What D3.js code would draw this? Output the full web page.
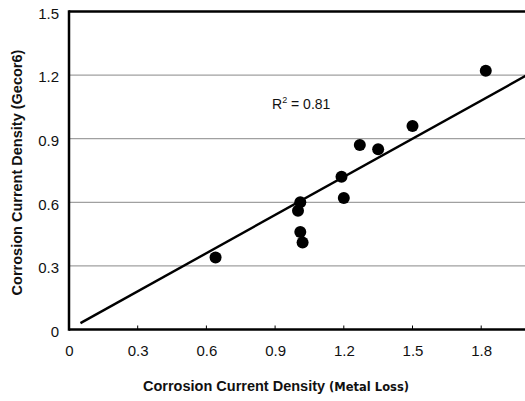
<!DOCTYPE html>
<html>
<head>
<meta charset="utf-8">
<script src="https://cdn.jsdelivr.net/npm/d3@7/dist/d3.min.js"></script>
<style>
  html, body { margin: 0; padding: 0; background: #fff; }
  svg { display: block; font-family: Arial, "Liberation Sans", Helvetica, sans-serif; }
</style>
</head>
<body>
<svg id="chart" width="525" height="401"></svg>
<script>
// Corrosion current density: metal-loss method (x) vs. Gecor6 device (y)
const metalLoss = [0.64, 1.00, 1.01, 1.01, 1.02, 1.19, 1.20, 1.27, 1.35, 1.50, 1.82];
const gecor6    = [0.34, 0.56, 0.60, 0.46, 0.41, 0.72, 0.62, 0.87, 0.85, 0.96, 1.22];
// Fitted line endpoints (y = 0.6x)
const fitX = [0.05, 2.0];
const fitY = [0.03, 1.20];
const xTicks = [0, 0.3, 0.6, 0.9, 1.2, 1.5, 1.8];
const yTicks = [0, 0.3, 0.6, 0.9, 1.2, 1.5];
const rSquared = "0.81";

const svg = d3.select("#chart");
const x = d3.scaleLinear().domain([0, 2.0]).range([69, 527]);
const y = d3.scaleLinear().domain([0, 1.5]).range([329.5, 11.5]);

// horizontal grid lines
svg.append("g")
  .selectAll("line")
  .data(yTicks.filter(d => d > 0 && d < 1.5))
  .join("line")
  .attr("x1", x(0)).attr("x2", x(2.0))
  .attr("y1", d => y(d)).attr("y2", d => y(d))
  .attr("stroke", "#a0a0a0")
  .attr("stroke-width", 1.2);

// frame: top, left, bottom
const frame = svg.append("g").attr("stroke", "#000").attr("fill", "none");
frame.append("line").attr("x1", x(0)).attr("x2", x(2.0)).attr("y1", y(1.5)).attr("y2", y(1.5)).attr("stroke-width", 2.5);
frame.append("line").attr("x1", x(0)).attr("x2", x(0)).attr("y1", y(1.5) - 1.2).attr("y2", y(0) + 1.2).attr("stroke-width", 2.5);
frame.append("line").attr("x1", x(0)).attr("x2", x(2.0)).attr("y1", y(0)).attr("y2", y(0)).attr("stroke-width", 2.5);

// x axis labels with short inner ticks
const xAxis = d3.axisBottom(x).tickValues(xTicks).tickSize(0).tickPadding(16)
  .tickFormat(d => d === 0 ? "0" : d3.format(".1f")(d));
const gx = svg.append("g").attr("transform", `translate(0,${y(0)})`).call(xAxis);
gx.select(".domain").remove();
gx.selectAll("text").attr("font-size", 15).attr("fill", "#111").attr("font-family", "Arial, 'Liberation Sans', sans-serif");
svg.append("g").selectAll("line").data(xTicks.slice(1)).join("line")
  .attr("x1", d => x(d)).attr("x2", d => x(d))
  .attr("y1", y(0)).attr("y2", y(0) - 4)
  .attr("stroke", "#000").attr("stroke-width", 1);

// y axis labels
const yAxis = d3.axisLeft(y).tickValues(yTicks).tickSize(0).tickPadding(10)
  .tickFormat(d => d === 0 ? "0" : d3.format(".1f")(d));
const gy = svg.append("g").attr("transform", `translate(${x(0)},0)`).call(yAxis);
gy.select(".domain").remove();
gy.selectAll("text").attr("font-size", 15).attr("fill", "#111").attr("dy", "0.45em")
  .attr("font-family", "Arial, 'Liberation Sans', sans-serif");

// regression line
svg.append("line")
  .attr("x1", x(fitX[0])).attr("y1", y(fitY[0]))
  .attr("x2", x(fitX[1])).attr("y2", y(fitY[1]))
  .attr("stroke", "#000").attr("stroke-width", 2.4);

// data points
svg.append("g").selectAll("circle")
  .data(metalLoss.map((v, i) => [v, gecor6[i]]))
  .join("circle")
  .attr("cx", d => x(d[0])).attr("cy", d => y(d[1]))
  .attr("r", 6).attr("fill", "#000");

// R-squared annotation
const rt = svg.append("text").attr("x", 272).attr("y", 109).attr("font-size", 14).attr("fill", "#111");
rt.append("tspan").text("R");
rt.append("tspan").attr("font-size", 9).attr("dy", -6).text("2");
rt.append("tspan").attr("dy", 6).text(" = " + rSquared);

// axis titles
svg.append("text")
  .attr("transform", `translate(22,${(y(0) + y(1.5)) / 2 + 2}) rotate(-90)`)
  .attr("text-anchor", "middle")
  .attr("font-size", 14.5).attr("font-weight", "bold").attr("fill", "#111")
  .text("Corrosion Current Density (Gecor6)");

const xt = svg.append("text")
  .attr("x", 143).attr("y", 391)
  .attr("font-weight", "bold").attr("fill", "#111");
xt.append("tspan").attr("font-size", 14.5).text("Corrosion Current Density ");
xt.append("tspan").attr("font-size", 11.5).attr("font-family", "Verdana, 'DejaVu Sans', sans-serif").text("(Metal Loss)");
</script>
</body>
</html>
